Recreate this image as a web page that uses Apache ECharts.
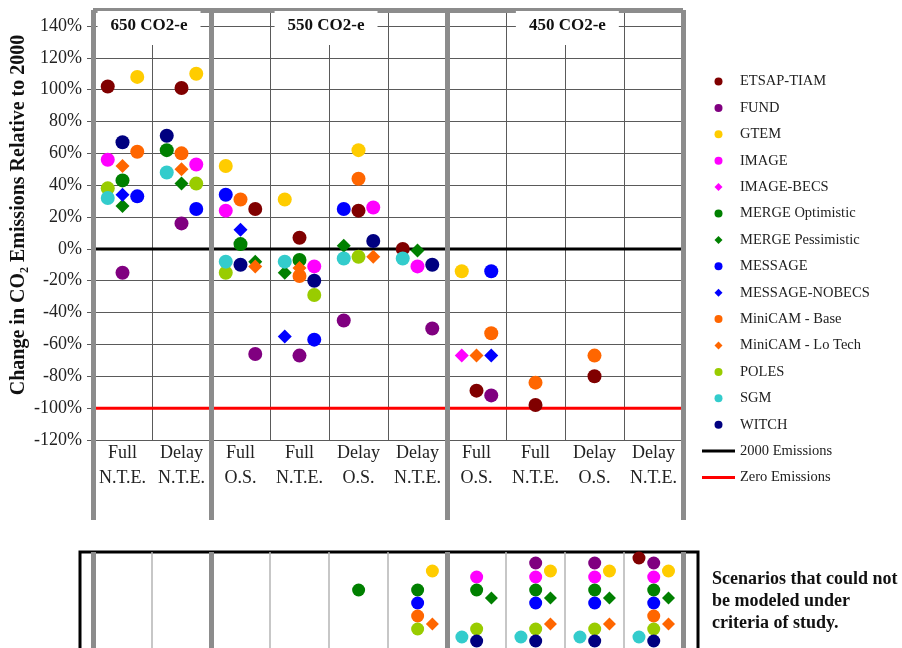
<!DOCTYPE html>
<html>
<head>
<meta charset="utf-8">
<script src="https://cdn.jsdelivr.net/npm/echarts@6/dist/echarts.min.js"></script>
<style>
  html, body { margin: 0; padding: 0; background: #fff; }
  #chart { width: 902px; height: 648px; }
</style>
</head>
<body>
<div id="chart"></div>
<script>
// scenario columns, left to right, grouped by concentration target
const columns = ['Full\nN.T.E.', 'Delay\nN.T.E.', 'Full\nO.S.', 'Full\nN.T.E.', 'Delay\nO.S.',
                 'Delay\nN.T.E.', 'Full\nO.S.', 'Full\nN.T.E.', 'Delay\nO.S.', 'Delay\nN.T.E.'];
const targets = ['650 CO2-e', '550 CO2-e', '450 CO2-e'];
const models = ['ETSAP-TIAM', 'FUND', 'GTEM', 'IMAGE', 'IMAGE-BECS', 'MERGE Optimistic',
                'MERGE Pessimistic', 'MESSAGE', 'MESSAGE-NOBECS', 'MiniCAM - Base',
                'MiniCAM - Lo Tech', 'POLES', 'SGM', 'WITCH'];

// [column, lane (-1 left / 0 mid / 1 right), change in CO2 emissions vs 2000 (%)]
const etsapTiam     = [[0,-1,102],[1,0,101],[2,1,25],[3,0,7],[4,0,24],[5,-1,0],[6,0,-89],[7,0,-98],[8,0,-80]];
const fund          = [[0,0,-15],[1,0,16],[2,1,-66],[3,0,-67],[4,-1,-45],[5,1,-50],[6,1,-92]];
const gtem          = [[0,1,108],[1,1,110],[2,-1,52],[3,-1,31],[4,0,62],[6,-1,-14]];
const image         = [[0,-1,56],[1,1,53],[2,-1,24],[3,1,-11],[4,1,26],[5,0,-11]];
const imageBecs     = [[6,-1,-67]];
const mergeOpt      = [[0,0,43],[1,-1,62],[2,0,3],[3,0,-7]];
const mergePess     = [[0,0,27],[1,0,41],[2,1,-8],[3,-1,-15],[4,-1,2],[5,0,-1]];
const message       = [[0,1,33],[1,1,25],[2,-1,34],[3,1,-57],[4,-1,25],[6,1,-14]];
const messageNobecs = [[0,0,34],[2,0,12],[3,-1,-55],[6,1,-67]];
const minicamBase   = [[0,1,61],[1,0,60],[2,0,31],[3,0,-17],[4,0,44],[6,1,-53],[7,0,-84],[8,0,-67]];
const minicamLoTech = [[0,0,52],[1,0,50],[2,1,-11],[3,0,-12],[4,1,-5],[6,0,-67]];
const poles         = [[0,-1,38],[1,1,41],[2,-1,-15],[3,1,-29],[4,0,-5]];
const sgm           = [[0,-1,32],[1,-1,48],[2,-1,-8],[3,-1,-8],[4,-1,-6],[5,-1,-6]];
const witch         = [[0,0,67],[1,-1,71],[2,0,-10],[3,1,-20],[4,1,5],[5,1,-10]];

// scenarios that could not be modeled: [column, lane]
const etsapTiamNA     = [[9,-1]];
const fundNA          = [[7,0],[8,0],[9,0]];
const gtemNA          = [[5,1],[7,1],[8,1],[9,1]];
const imageNA         = [[6,0],[7,0],[8,0],[9,0]];
const imageBecsNA     = [];
const mergeOptNA      = [[4,0],[5,0],[6,0],[7,0],[8,0],[9,0]];
const mergePessNA     = [[6,1],[7,1],[8,1],[9,1]];
const messageNA       = [[5,0],[7,0],[8,0],[9,0]];
const messageNobecsNA = [];
const minicamBaseNA   = [[5,0],[9,0]];
const minicamLoTechNA = [[5,1],[7,1],[8,1],[9,1]];
const polesNA         = [[5,0],[6,0],[7,0],[8,0],[9,0]];
const sgmNA           = [[6,-1],[7,-1],[8,-1],[9,-1]];
const witchNA         = [[6,0],[7,0],[8,0],[9,0]];
// stacking level of each model inside the "not modeled" box
const unmodeledLevel = [6, 11, 19, 25, null, 38, 46, 51, null, 64, 72, 77, 85, 89];

// reference lines
const emissions2000 = 0;
const zeroEmissions = -100;

const results = [etsapTiam, fund, gtem, image, imageBecs, mergeOpt, mergePess, message,
                 messageNobecs, minicamBase, minicamLoTech, poles, sgm, witch];
const unmodeled = [etsapTiamNA, fundNA, gtemNA, imageNA, imageBecsNA, mergeOptNA, mergePessNA,
                   messageNA, messageNobecsNA, minicamBaseNA, minicamLoTechNA, polesNA, sgmNA, witchNA];

const colors = ['#800000', '#800080', '#FFCC00', '#FF00FF', '#FF00FF', '#008000', '#008000',
                '#0000FF', '#0000FF', '#FF6600', '#FF6600', '#99CC00', '#33CCCC', '#000080'];
const symbols = ['circle', 'circle', 'circle', 'circle', 'diamond', 'circle', 'diamond',
                 'circle', 'diamond', 'circle', 'diamond', 'circle', 'circle', 'circle'];

const FONT = 'Liberation Serif';
const LANE = 0.25;
const DIAMOND_ICON = 'path://M5,0L10,5L5,10L0,5Z';
const LINE_ICON = 'path://M0,0L33,0L33,3L0,3Z';
const FRAME = '#8c8c8c';
const GRID_LINE = '#5a5a5a';

const laneX = (col, lane) => col + 0.5 + lane * LANE;

const series = [];

models.forEach((name, i) => {
    series.push({
        type: 'scatter', name,
        xAxisIndex: 0, yAxisIndex: 0,
        symbol: symbols[i], symbolSize: 14,
        itemStyle: { color: colors[i], opacity: 1 },
        z: 4,
        data: results[i].map(([c, l, v]) => [laneX(c, l), v])
    });
    if (unmodeled[i].length) {
        series.push({
            type: 'scatter', name,
            xAxisIndex: 3, yAxisIndex: 2,
            symbol: symbols[i], symbolSize: 13,
            itemStyle: { color: colors[i], opacity: 1 },
            z: 4,
            data: unmodeled[i].map(([c, l]) => [laneX(c, l), unmodeledLevel[i]])
        });
    }
});

series.push({
    type: 'line', name: '2000 Emissions',
    xAxisIndex: 0, yAxisIndex: 0,
    symbol: 'none', z: 3,
    itemStyle: { color: '#000' },
    lineStyle: { color: '#000', width: 3 },
    data: [[0, emissions2000], [columns.length, emissions2000]]
});
series.push({
    type: 'line', name: 'Zero Emissions',
    xAxisIndex: 0, yAxisIndex: 0,
    symbol: 'none', z: 3,
    itemStyle: { color: '#FF0000' },
    lineStyle: { color: '#FF0000', width: 3 },
    data: [[0, zeroEmissions], [columns.length, zeroEmissions]]
});

// panel borders: thick grey lines between the three targets
const panelEdges = [0, 2, 6, 10];
series.push({
    type: 'scatter', xAxisIndex: 2, yAxisIndex: 1, data: [], z: 3, silent: true,
    markLine: {
        silent: true, symbol: ['none', 'none'], label: { show: false },
        lineStyle: { color: FRAME, width: 5, type: 'solid' },
        data: panelEdges.map(x => ({ xAxis: x })).concat([{ yAxis: 1 }])
    }
});

// column separators inside the "not modeled" box
series.push({
    type: 'scatter', xAxisIndex: 3, yAxisIndex: 2, data: [], z: 3, silent: true,
    markLine: {
        silent: true, symbol: ['none', 'none'], label: { show: false },
        data: columns.map((_, i) => i).concat([columns.length]).map(x => ({
            xAxis: x,
            lineStyle: panelEdges.includes(x)
                ? { color: FRAME, width: 5, type: 'solid' }
                : { color: '#b4b4b4', width: 1.5, type: 'solid' }
        }))
    }
});

const legendData = models.map((n, i) => symbols[i] === 'diamond' ? { name: n, icon: DIAMOND_ICON } : n)
    .concat([{ name: '2000 Emissions', icon: LINE_ICON }, { name: 'Zero Emissions', icon: LINE_ICON }]);

// target titles sit on the top gridline with a white box behind them
const titleCenters = [0.95, 3.95, 8.04];
const gridLeft = 93, gridWidth = 590;
const titles = targets.map((t, k) => ({
    text: t,
    textAlign: 'center',
    left: gridLeft + gridWidth * titleCenters[k] / columns.length - 13,
    top: 11,
    padding: [6, 13, 11, 13],
    backgroundColor: '#fff',
    borderWidth: 0,
    borderColor: 'transparent',
    textStyle: { fontFamily: FONT, fontSize: 17, fontWeight: 'bold', color: '#111' }
}));
titles.push({
    text: 'Scenarios that could not\nbe modeled under\ncriteria of study.',
    left: 712, top: 568, padding: 0,
    textStyle: { fontFamily: FONT, fontSize: 18, fontWeight: 'bold', color: '#111', lineHeight: 22 }
});

const chart = echarts.init(document.getElementById('chart'));
chart.setOption({
    animation: false,
    backgroundColor: '#fff',
    title: titles,
    legend: {
        orient: 'vertical',
        left: 702, top: 74, padding: 0,
        itemWidth: 33, itemHeight: 8, itemGap: 11.4,
        selectedMode: false,
        textStyle: { fontFamily: FONT, fontSize: 14.5, color: '#222', lineHeight: 14 },
        data: legendData
    },
    grid: [
        { left: 93, right: 219, top: 10, bottom: 208, outerBoundsMode: 'none', containLabel: false },
        { left: 93, right: 219, top: 10, bottom: 128, outerBoundsMode: 'none', containLabel: false },
        { left: 80, right: 204, top: 552, bottom: -12, outerBoundsMode: 'none', containLabel: false,
          show: true, backgroundColor: '#fff', borderColor: '#000', borderWidth: 3 }
    ],
    xAxis: [
        { type: 'value', gridIndex: 0, min: 0, max: columns.length, interval: 1, position: 'bottom',
          axisLabel: { show: false }, axisTick: { show: false }, axisLine: { show: false },
          splitLine: { show: true, lineStyle: { color: GRID_LINE, width: 1 } } },
        { type: 'category', gridIndex: 0, data: columns, position: 'bottom',
          axisLine: { show: false }, axisTick: { show: false },
          axisLabel: { interval: 0, hideOverlap: false, fontFamily: FONT, fontSize: 18, color: '#222',
                       lineHeight: 25, margin: 1 } },
        { type: 'value', gridIndex: 1, min: 0, max: columns.length, show: false },
        { type: 'value', gridIndex: 2, min: -0.22, max: 10.25, show: false }
    ],
    yAxis: [
        { type: 'value', gridIndex: 0, min: -120, max: 150, interval: 20,
          name: 'Change in CO₂ Emissions Relative to 2000',
          nameLocation: 'middle', nameGap: 64, nameMoveOverlap: false,
          nameTextStyle: { fontFamily: FONT, fontSize: 20, fontWeight: 'bold', color: '#111',
                           padding: [0, 0, 0, 20] },
          axisLine: { show: false },
          axisTick: { show: true, length: 6, lineStyle: { color: GRID_LINE } },
          axisLabel: { fontFamily: FONT, fontSize: 18, color: '#222', margin: 11,
                       showMaxLabel: false, formatter: v => v + '%' },
          splitLine: { show: true, lineStyle: { color: GRID_LINE, width: 1 } } },
        { type: 'value', gridIndex: 1, min: 0, max: 1, show: false },
        { type: 'value', gridIndex: 2, min: 0, max: 108, inverse: true, show: false }
    ],
    series
});
</script>
</body>
</html>
